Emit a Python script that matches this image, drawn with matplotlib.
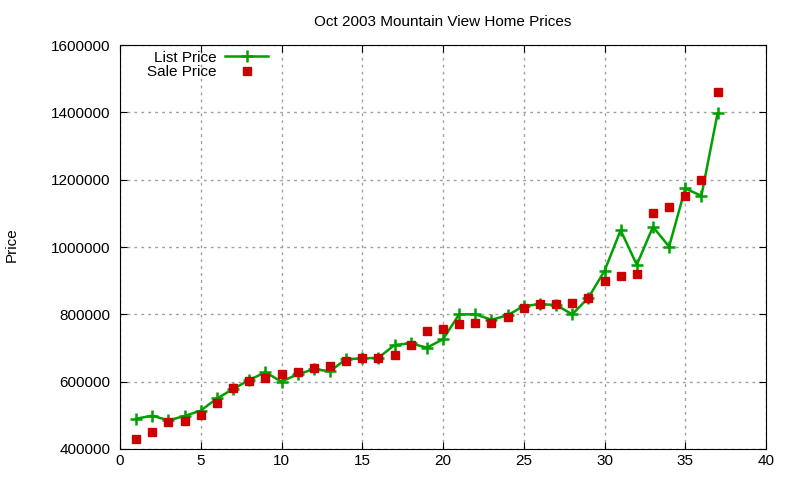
import matplotlib
matplotlib.use('Agg')
import matplotlib.pyplot as plt

# home number (sorted by price) and prices
homes = list(range(1, 38))
list_price = [490000, 499000, 485000, 498000, 514000, 550000, 578000, 605000, 628000, 600000,
              622000, 637000, 631000, 667000, 669000, 671000, 709000, 714000, 701000, 726000,
              800000, 800000, 784000, 797000, 825000, 830000, 828000, 800000, 849000, 929000,
              1050000, 947000, 1060000, 1001000, 1174000, 1152000, 1397000]
sale_price = [430000, 450000, 481000, 484000, 502000, 538000, 582000, 603000, 612000, 623000,
              629000, 641000, 647000, 662000, 671000, 671000, 680000, 710000, 751000, 757000,
              772000, 775000, 775000, 793000, 820000, 832000, 832000, 835000, 850000, 900000,
              915000, 921000, 1102000, 1120000, 1152000, 1199000, 1460000]

x_ticks = [0, 5, 10, 15, 20, 25, 30, 35, 40]
y_ticks = [400000, 600000, 800000, 1000000, 1200000, 1400000, 1600000]

plt.rcParams['font.family'] = ['Liberation Sans', 'DejaVu Sans']
plt.rcParams['font.size'] = 9.5

fig = plt.figure(figsize=(8, 4.8), dpi=100)
ax = fig.add_axes([0.15, 0.0646, 0.8075, 0.8416])

ax.plot(homes, list_price, color='#00a000', lw=1.8, marker='+', ms=8, mew=1.8, label='List Price')
ax.plot(homes, sale_price, ls='none', color='#cc0000', marker='s', ms=6.4, label='Sale Price')

ax.set_xlim(0, 40)
ax.set_ylim(400000, 1600000)
ax.set_xticks(x_ticks)
ax.set_yticks(y_ticks)
ax.set_yticklabels([str(v) for v in y_ticks])
ax.tick_params(direction='in', top=True, right=True, length=5, labelsize=11)
ax.tick_params(axis='y', pad=7)
ax.grid(True, color='#a0a0a0', ls=(0, (2, 3)), lw=1)
ax.set_axisbelow(True)

ax.set_title('Oct 2003 Mountain View Home Prices', fontsize=11, pad=14)
ax.set_ylabel('Price', fontsize=11)
ax.yaxis.set_label_coords(-0.157, 0.505)

leg = ax.legend(loc='upper left', bbox_to_anchor=(0.02, 1.02), frameon=False, markerfirst=False,
                handlelength=2.8, handletextpad=0.6, labelspacing=0.05, fontsize=11)
for t in leg.get_texts():
    t.set_ha('right')

fig.savefig('out.png', dpi=100)
